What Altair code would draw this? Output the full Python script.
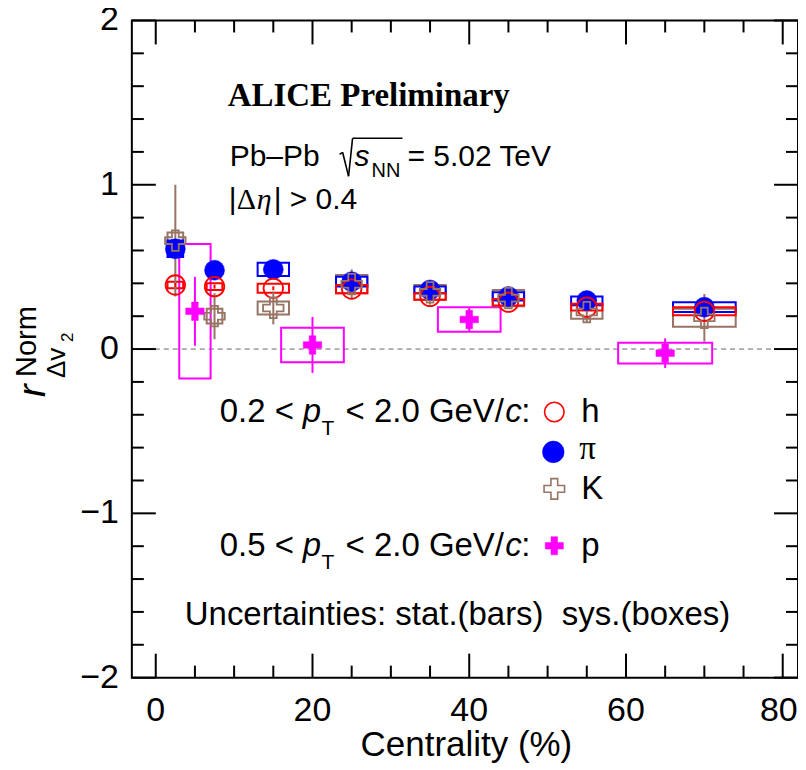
import altair as alt
import pandas as pd
import numpy as np

# ---------------- data ----------------
cent = [2.5, 7.5, 15, 25, 35, 45, 55, 70]
box_hw = [1.0, 1.0, 2.0, 2.0, 2.0, 2.0, 2.0, 4.0]

h_val = [0.39, 0.38, 0.37, 0.365, 0.32, 0.285, 0.255, 0.23]
h_stat = [0.012, 0.012, 0.012, 0.012, 0.012, 0.012, 0.012, 0.012]
h_sys = [0.02, 0.02, 0.028, 0.025, 0.02, 0.02, 0.02, 0.025]

pi_val = [0.61, 0.48, 0.485, 0.41, 0.36, 0.32, 0.295, 0.255]
pi_stat = [0.015, 0.01, 0.01, 0.01, 0.01, 0.01, 0.01, 0.01]
pi_sys = [0.05, 0.02, 0.04, 0.03, 0.02, 0.025, 0.025, 0.03]

k_val = [0.66, 0.20, 0.25, 0.395, 0.345, 0.31, 0.225, 0.19]
k_stat = [0.34, 0.14, 0.10, 0.09, 0.075, 0.065, 0.065, 0.145]
k_sys = [0.05, 0.045, 0.04, 0.055, 0.045, 0.05, 0.04, 0.055]

p_cent = [5, 20, 40, 65]
p_box_hw = [2.0, 4.0, 4.0, 6.0]
p_val = [0.23, 0.025, 0.18, -0.025]
p_stat = [0.21, 0.17, 0.07, 0.09]
p_sys = [0.41, 0.105, 0.075, 0.063]

x_major = [0, 20, 40, 60, 80]
x_minor = [5, 10, 15, 25, 30, 35, 45, 50, 55, 65, 70, 75]
y_major = [-2, -1, 0, 1, 2]
y_minor = [round(v, 1) for v in np.arange(-1.8, 2.0, 0.2) if abs(round(v, 1) - round(v)) > 1e-6]
x_labels = ["0", "20", "40", "60", "80"]
y_labels = ["\u22122", "\u22121", "0", "1", "2"]

# ---------------- layout ----------------
W, H = 667, 658
OX, OY = 132, 20
RED, BLUE, BROWN, MAG = "#ff0000", "#0000ff", "#977464", "#ff00ff"
SANS, SERIF = "Liberation Sans", "Liberation Serif"
NB = "\u00a0"

xs = alt.Scale(domain=[-3.05, 81.95], nice=False, zero=False)
ys = alt.Scale(domain=[-2, 2], nice=False, zero=False)

OPEN_CROSS = ("M-0.33,-1L0.33,-1L0.33,-0.33L1,-0.33L1,0.33L0.33,0.33L0.33,1"
              "L-0.33,1L-0.33,0.33L-1,0.33L-1,-0.33L-0.33,-0.33Z")
FILL_CROSS = ("M-0.36,-1L0.36,-1L0.36,-0.36L1,-0.36L1,0.36L0.36,0.36L0.36,1"
              "L-0.36,1L-0.36,0.36L-1,0.36L-1,-0.36L-0.36,-0.36Z")


def table(xv, v, st, sy, hw):
    return pd.DataFrame({
        "x": xv, "y": v,
        "slo": np.array(v) - np.array(st), "shi": np.array(v) + np.array(st),
        "blo": np.array(v) - np.array(sy), "bhi": np.array(v) + np.array(sy),
        "xlo": np.array(xv) - np.array(hw), "xhi": np.array(xv) + np.array(hw),
    })


species = {
    "h": (table(cent, h_val, h_stat, h_sys, box_hw), RED, "circle", False, 380),
    "pi": (table(cent, pi_val, pi_stat, pi_sys, box_hw), BLUE, "circle", True, 400),
    "K": (table(cent, k_val, k_stat, k_sys, box_hw), BROWN, OPEN_CROSS, False, 420),
    "p": (table(p_cent, p_val, p_stat, p_sys, p_box_hw), MAG, FILL_CROSS, True, 340),
}


def box_layer(name):
    df, col, *_ = species[name]
    return alt.Chart(df).mark_rect(fill=col, fillOpacity=0, stroke=col, strokeWidth=2).encode(
        x=alt.X("xlo:Q", scale=xs, axis=None), x2="xhi:Q",
        y=alt.Y("blo:Q", scale=ys, axis=None), y2="bhi:Q")


def bar_layer(name):
    df, col, *_ = species[name]
    return alt.Chart(df).mark_rule(color=col, strokeWidth=2).encode(
        x=alt.X("x:Q", scale=xs, axis=None),
        y=alt.Y("slo:Q", scale=ys, axis=None), y2="shi:Q")


def marker_layer(name):
    df, col, shape, filled, size = species[name]
    kw = dict(shape=shape, size=size, filled=filled, opacity=1)
    if filled:
        kw.update(fill=col, stroke=col, strokeWidth=0.5)
    else:
        kw.update(stroke=col, strokeWidth=1.8, fillOpacity=0)
    return alt.Chart(df).mark_point(**kw).encode(
        x=alt.X("x:Q", scale=xs, axis=None),
        y=alt.Y("y:Q", scale=ys, axis=None))


def txt(s, px, py, size, font=SANS, style="normal", weight="normal", color="black",
        angle=0, align="left", baseline="alphabetic"):
    return alt.Chart(pd.DataFrame({"t": [s]})).mark_text(
        font=font, fontSize=size, fontStyle=style, fontWeight=weight, color=color,
        angle=angle, align=align, baseline=baseline).encode(
        text="t:N", x=alt.value(px - OX), y=alt.value(py - OY))


def seg(x1, y1, x2, y2, width=1.6, color="black"):
    return alt.Chart(pd.DataFrame({"a": [0]})).mark_rule(color=color, strokeWidth=width).encode(
        x=alt.value(x1 - OX), y=alt.value(y1 - OY), x2=alt.value(x2 - OX), y2=alt.value(y2 - OY))


def legend_marker(name, px, py, size):
    _, col, shape, filled, _ = species[name]
    kw = dict(shape=shape, size=size, filled=filled, opacity=1)
    if filled:
        kw.update(fill=col, stroke=col, strokeWidth=0.5)
    else:
        kw.update(stroke=col, strokeWidth=1.6, fillOpacity=0)
    return alt.Chart(pd.DataFrame({"a": [0]})).mark_point(**kw).encode(
        x=alt.value(px - OX), y=alt.value(py - OY))


layers = []

# zero line
layers.append(alt.Chart(pd.DataFrame({"z": [0]})).mark_rule(
    color="#666666", strokeWidth=1, strokeDash=[5, 4]).encode(
    y=alt.Y("z:Q", scale=ys, axis=None)))

# ticks (inside, on all four sides)
def xticks(vals, length):
    d = pd.DataFrame({"v": vals})
    return [
        alt.Chart(d).mark_rule(color="black", strokeWidth=2).encode(
            x=alt.X("v:Q", scale=xs, axis=None), y=alt.value(H), y2=alt.value(H - length)),
        alt.Chart(d).mark_rule(color="black", strokeWidth=2).encode(
            x=alt.X("v:Q", scale=xs, axis=None), y=alt.value(0), y2=alt.value(length)),
    ]


def yticks(vals, length):
    d = pd.DataFrame({"v": vals})
    return [
        alt.Chart(d).mark_rule(color="black", strokeWidth=2).encode(
            y=alt.Y("v:Q", scale=ys, axis=None), x=alt.value(0), x2=alt.value(length)),
        alt.Chart(d).mark_rule(color="black", strokeWidth=2).encode(
            y=alt.Y("v:Q", scale=ys, axis=None), x=alt.value(W), x2=alt.value(W - length)),
    ]


layers += xticks(x_major, 24) + xticks(x_minor, 12) + yticks(y_major, 24) + yticks(y_minor, 12)

# tick labels (the last x label is kept inside the page edge)
xl = pd.DataFrame({"v": x_major, "t": x_labels})
layers.append(alt.Chart(xl.iloc[:-1]).mark_text(
    font=SANS, fontSize=34, align="center", baseline="alphabetic", color="black").encode(
    x=alt.X("v:Q", scale=xs, axis=None), y=alt.value(721 - OY), text="t:N"))
layers.append(alt.Chart(xl.iloc[-1:]).mark_text(
    font=SANS, fontSize=34, align="right", baseline="alphabetic", color="black", dx=15).encode(
    x=alt.X("v:Q", scale=xs, axis=None), y=alt.value(721 - OY), text="t:N"))
layers.append(alt.Chart(pd.DataFrame({"v": y_major, "t": y_labels})).mark_text(
    font=SANS, fontSize=34, align="right", baseline="middle", color="black").encode(
    y=alt.Y("v:Q", scale=ys, axis=None), x=alt.value(119 - OX), text="t:N"))

# data: boxes, bars, markers
for n in ["p", "K", "pi", "h"]:
    layers.append(box_layer(n))
for n in ["K", "pi", "h", "p"]:
    layers.append(bar_layer(n))
for n in ["pi", "h", "K", "p"]:
    layers.append(marker_layer(n))

# axis titles
layers.append(txt("Centrality (%)", 467, 756, 35, align="center"))
layers.append(txt("r", 45, 397, 38, style="italic", angle=270))
layers.append(txt("Norm", 36, 377, 29, angle=270))
layers.append(txt("\u0394v", 65, 378, 26, angle=270))
layers.append(txt("2", 73, 342, 17, angle=270))

# header texts
layers.append(txt("ALICE Preliminary", 228, 106, 33, font=SERIF, weight="bold"))
layers.append(txt("Pb\u2013Pb", 230, 166, 30))
layers += [seg(340, 154, 343, 152), seg(343, 152, 349, 176), seg(349, 176, 353, 138),
           seg(353, 138, 403, 138)]
layers.append(txt("s", 355, 166, 30, style="italic"))
layers.append(txt("NN", 372, 177, 20))
layers.append(txt("= 5.02 TeV", 408, 166, 30))
layers.append(txt("|", 229, 209, 30))
layers.append(txt("\u0394", 237, 209, 30, font=SERIF))
layers.append(txt("\u03b7", 257, 209, 30, font=SERIF, style="italic"))
layers.append(txt("|" + NB + ">" + NB + "0.4", 274, 209, 30))

# legend
for base, lo in [(422, "0.2"), (556, "0.5")]:
    layers.append(txt(lo + NB + "<", 220, base, 33))
    layers.append(txt("p", 303, base, 33, style="italic"))
    layers.append(txt("T", 322, base + 13, 21))
    layers.append(txt("<" + NB + "2.0" + NB + "GeV/", 346, base, 33))
    layers.append(txt("c", 506, base, 33, style="italic"))
    layers.append(txt(":", 522, base, 33))

layers.append(legend_marker("h", 555, 412, 380))
layers.append(txt("h", 582, 422, 33))
layers.append(legend_marker("pi", 554, 452, 470))
layers.append(txt("\u03c0", 580, 459, 33, font=SERIF))
layers.append(legend_marker("K", 555, 489, 420))
layers.append(txt("K", 582, 499, 33))
layers.append(legend_marker("p", 555, 546, 330))
layers.append(txt("p", 582, 556, 33))

layers.append(txt("Uncertainties: stat.(bars)" + NB + NB + "sys.(boxes)", 185, 625, 33))

chart = alt.layer(*layers).properties(
    width=W, height=H,
    autosize=alt.AutoSizeParams(type="none"),
    padding={"left": OX - 8, "top": OY - 8, "right": 0, "bottom": 90},
    background="white",
).configure_view(stroke="black", strokeWidth=2)

chart.save("out.html", embed_options={"renderer": "svg", "actions": False})
